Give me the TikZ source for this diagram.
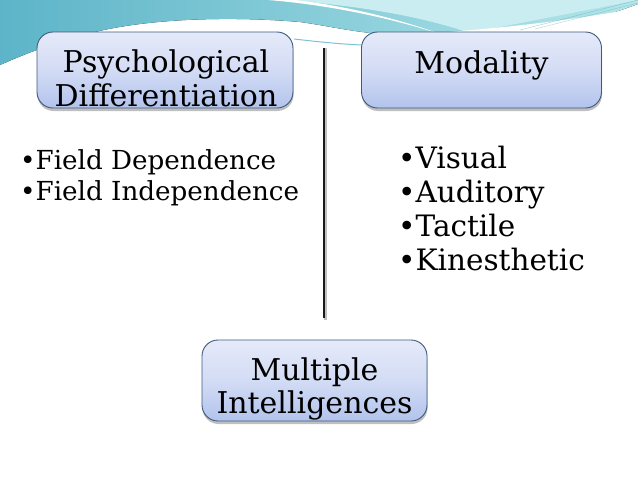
\documentclass[tikz,border=0pt]{standalone}
\usepackage{fontspec}
\setmainfont{DejaVu Serif}
\usetikzlibrary{shadows}
\definecolor{tealA}{HTML}{5DB4C8}
\definecolor{tealB}{HTML}{8FD3DD}
\definecolor{tealC}{HTML}{B2E6EA}
\definecolor{boxTop}{HTML}{E5EAF9}
\definecolor{boxMid}{HTML}{D3DCF5}
\definecolor{boxBot}{HTML}{B2C3EC}
\definecolor{boxLine}{HTML}{3F5A7C}
\tikzset{
  boxnode/.style={draw=boxLine, line width=0.9pt, rounded corners=16pt,
    top color=boxTop, bottom color=boxBot, middle color=boxMid,
    inner sep=0pt,
    drop shadow={shadow xshift=0.5pt, shadow yshift=-3pt, fill=black, opacity=0.25}},
  boxtext/.style={font=\fontsize{30}{34}\selectfont, anchor=base, inner sep=0pt},
  smalllist/.style={anchor=base west, inner sep=0pt, font=\fontsize{26.2}{31}\selectfont},
  biglist/.style={anchor=base west, inner sep=0pt, font=\fontsize{29.5}{34}\selectfont},
}
\begin{document}
\begin{tikzpicture}[x=1pt,y=-1pt]
\useasboundingbox (0,0) rectangle (638,479);
\fill[white] (0,0) rectangle (638,479);
% top swoosh
\fill[left color=tealA, right color=tealC] (0,0) -- (638,0) -- (638,4)
  .. controls (600,18) and (560,30) .. (520,32)
  .. controls (470,34) and (430,34) .. (400,35)
  .. controls (360,34) and (330,26) .. (300,22)
  .. controls (230,16) and (140,18) .. (80,36)
  .. controls (50,44) and (20,56) .. (0,65) -- cycle;
\fill[tealC!70!white] (285,0) .. controls (360,6) and (420,16) .. (470,33)
  -- (638,0) -- cycle;
\fill[white] (268,0) .. controls (330,5) and (390,18) .. (440,34)
  .. controls (385,14) and (330,4) .. (295,0) -- cycle;
\fill[white] (400,36) .. controls (470,30) and (540,26) .. (638,8) -- (638,40) -- (400,40) -- cycle;
\draw[tealB!80!black, line width=0.4pt, opacity=0.6] (520,30) -- (638,0);
\draw[tealB!80!black, line width=0.4pt, opacity=0.5] (535,29) -- (638,3);
\draw[tealA!80!white, line width=1pt] (294,39) .. controls (320,42) and (340,44) .. (362,45);

% boxes
\node[boxnode, minimum width=256pt, minimum height=76pt] (b1) at (165,70) {};
\node[boxnode, minimum width=240pt, minimum height=76pt] (b2) at (481.5,70) {};
\node[boxnode, minimum width=225pt, minimum height=81pt] (b3) at (314.5,380.5) {};

\node[boxtext] (t1a) at (166,72.5) {Psychological};
\node[boxtext] (t1b) at (166,106) {Differentiation};
\node[boxtext] (t2) at (481.5,73) {Modality};
\node[boxtext] (t3a) at (314.5,380) {Multiple};
\node[boxtext] (t3b) at (314.5,413) {Intelligences};

% divider
\coordinate (vt) at (324,48);
\coordinate (vb) at (324,318);
\draw[black!25, line width=3pt] ([xshift=1pt]vt) -- ([xshift=1pt,yshift=-2pt]vb);
\draw[black!90, line width=2.6pt] (vt) -- (vb);

% lists
\node[smalllist] (l1a) at (20,169) {•Field Dependence};
\node[smalllist] (l1b) at (20,200) {•Field Independence};
\node[biglist] (l2a) at (398,168) {•Visual};
\node[biglist] (l2b) at (398,202) {•Auditory};
\node[biglist] (l2c) at (398,236) {•Tactile};
\node[biglist] (l2d) at (398,270) {•Kinesthetic};
\end{tikzpicture}
\end{document}
